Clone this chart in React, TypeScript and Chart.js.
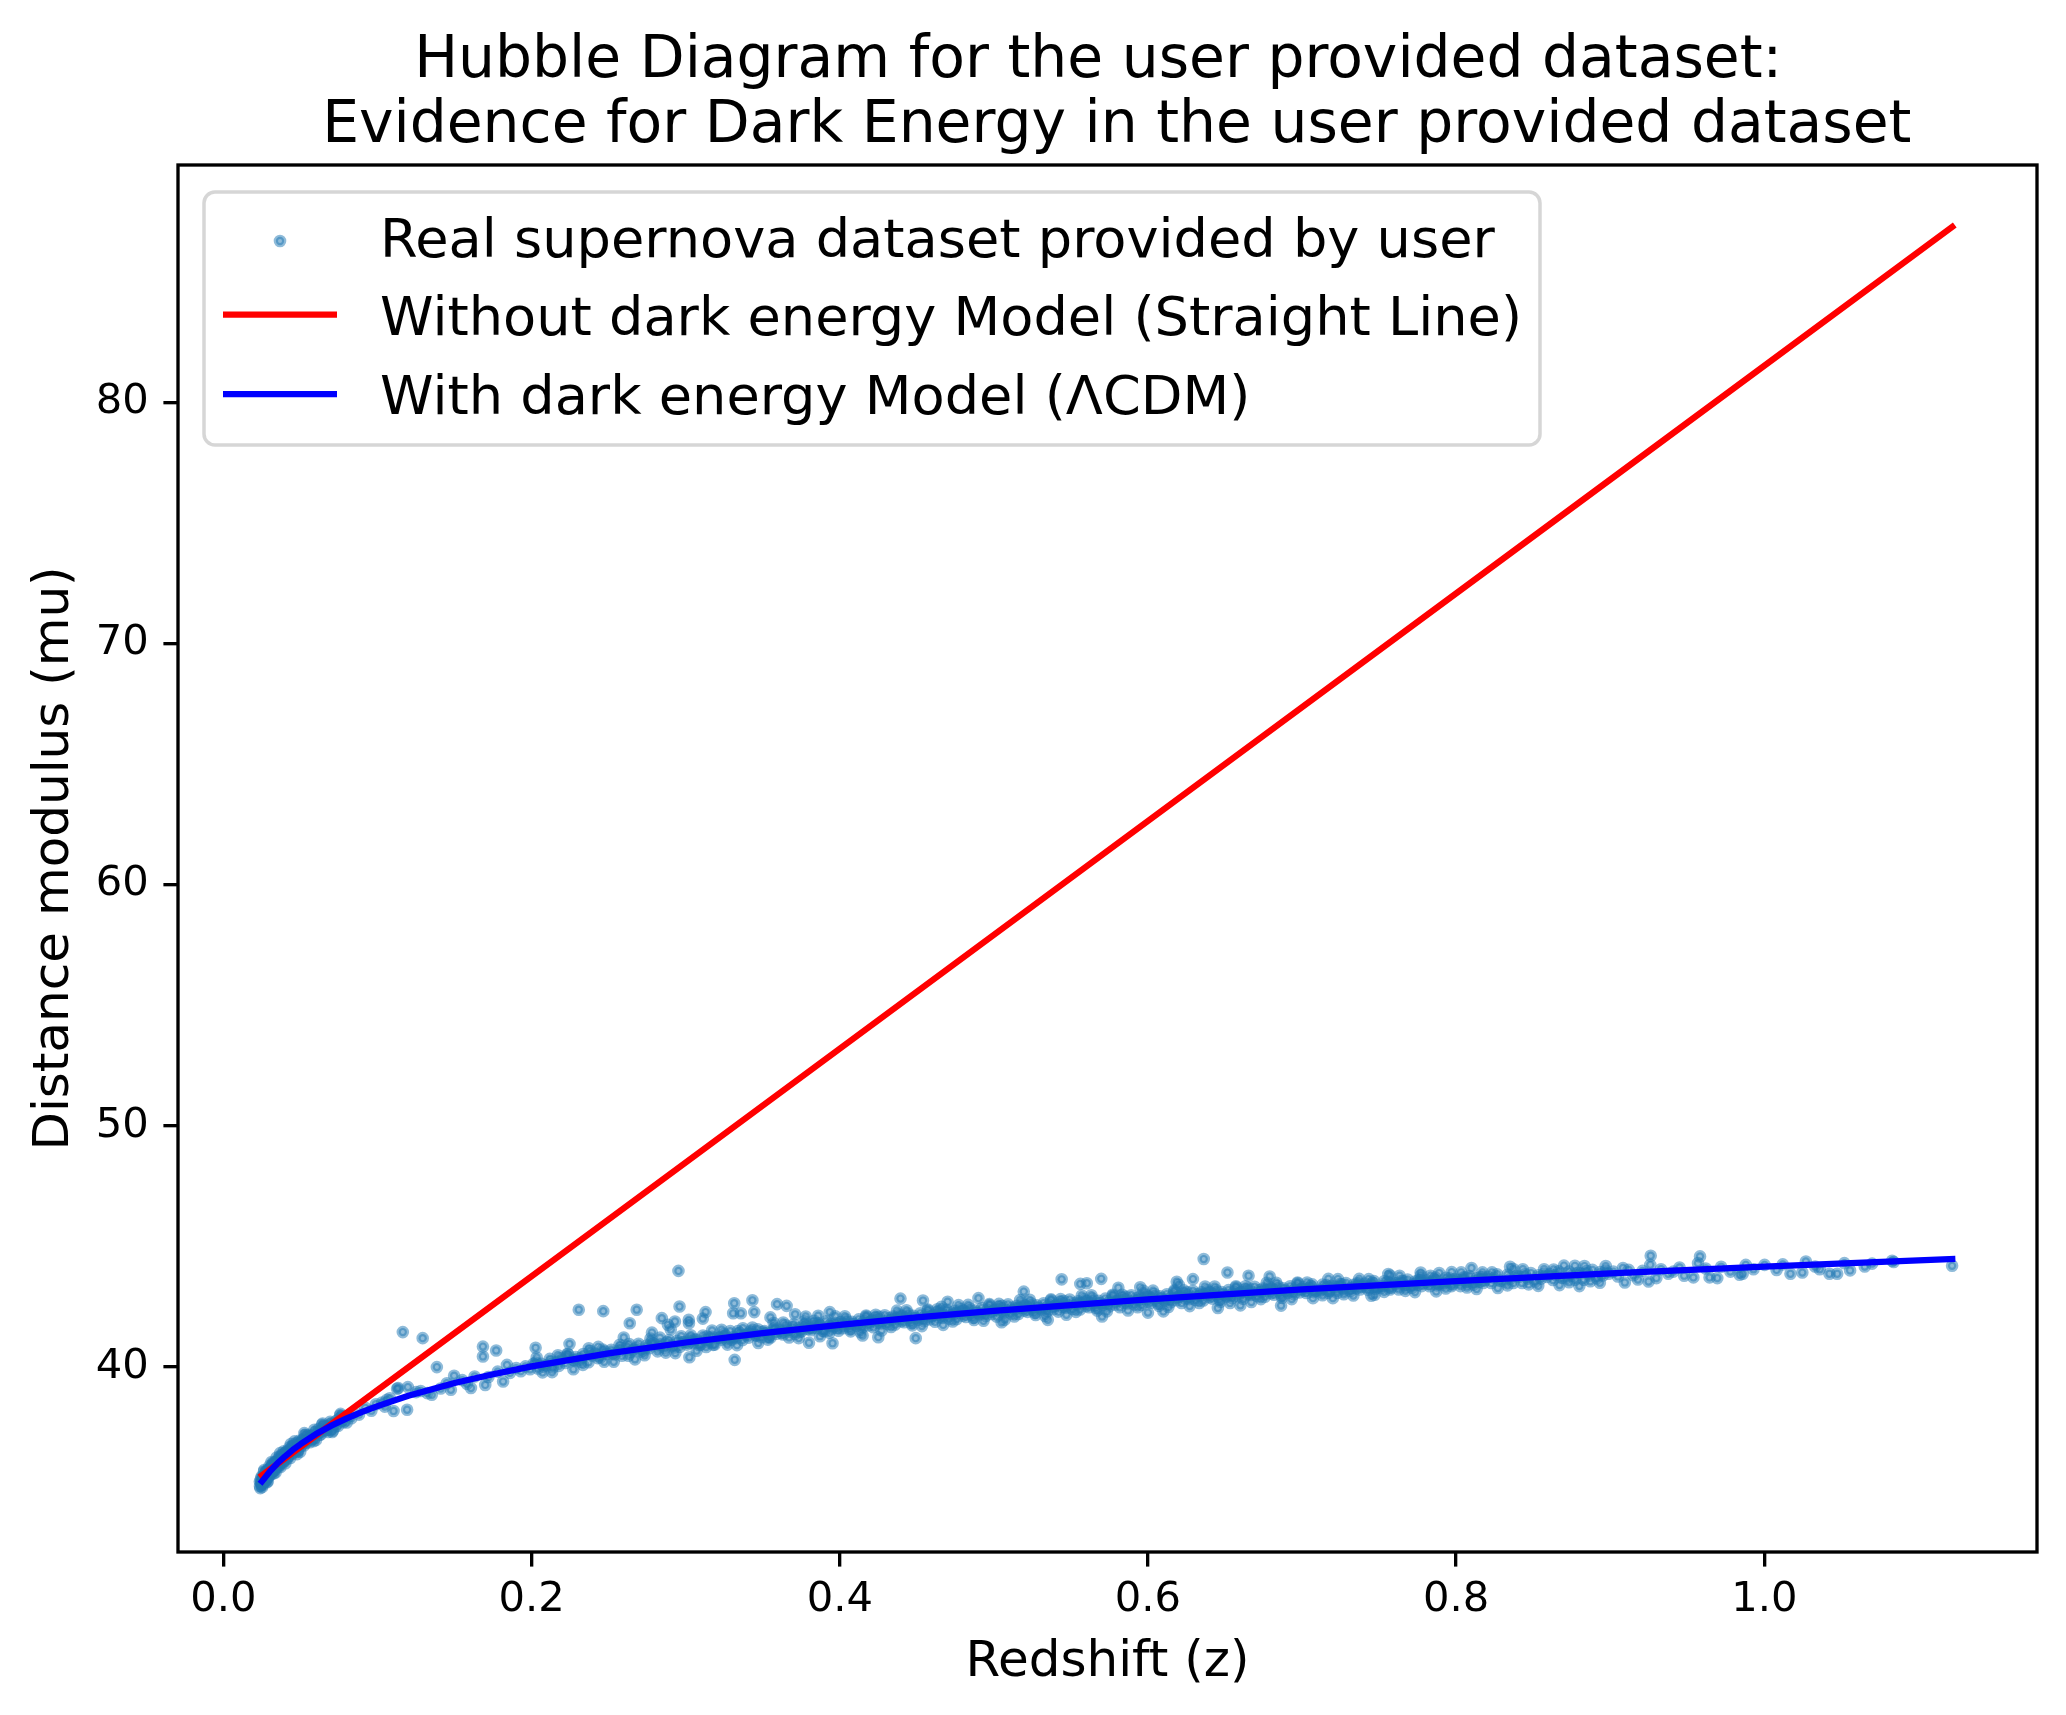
import React, { useEffect, useRef } from "react";
import { Chart, registerables } from "chart.js";

Chart.register(...registerables);

const WIDTH = 2066;
const HEIGHT = 1715;
const FONT = '"DejaVu Sans", "Liberation Sans", sans-serif';

// Text
const titleLines = [
  "Hubble Diagram for the user provided dataset: ",
  " Evidence for Dark Energy in the user provided dataset",
];
const xAxisLabel = "Redshift (z)";
const yAxisLabel = "Distance modulus (mu)";
const legendLabels = [
  "Real supernova dataset provided by user",
  "Without dark energy Model (Straight Line)",
  "With dark energy Model (\u039BCDM)",
];

// Axes
const xRange = [-0.0295, 1.177];
const yRange = [32.32, 89.85];
const xTickValues = [0.0, 0.2, 0.4, 0.6, 0.8, 1.0];
const yTickValues = [40, 50, 60, 70, 80];

// Model curves
const linearZ = [0.025, 0.3, 0.6, 0.9, 1.122];
const linearMu = [35.5, 48.48, 62.64, 76.8, 87.28];

const lcdmZ = [
  0.025, 0.03, 0.035, 0.04, 0.045, 0.05, 0.06, 0.07, 0.08, 0.09, 0.1, 0.12, 0.15, 0.175,
  0.2, 0.25, 0.3, 0.35, 0.4, 0.45, 0.5, 0.6, 0.7, 0.8, 0.9, 1.0, 1.1, 1.122,
];
const lcdmMu = [
  35.25, 35.65, 36.0, 36.29, 36.56, 36.79, 37.21, 37.56, 37.86, 38.13, 38.37, 38.8, 39.33, 39.69,
  40.02, 40.56, 41.01, 41.4, 41.74, 42.05, 42.32, 42.8, 43.21, 43.56, 43.88, 44.16, 44.42, 44.47,
];

// Supernovae [z, mu], grouped by redshift range
const snLowZ: [number, number][] = [
  [0.0236,35.24],[0.0239,34.97],[0.0242,35.23],[0.0245,35.13],[0.0248,35.45],[0.0251,35.01],[0.0254,35.28],[0.0257,35.46],[0.026,35.22],[0.0263,35.66],
  [0.0266,35.34],[0.027,35.5],[0.0274,35.25],[0.0278,35.66],[0.0282,35.21],[0.0286,35.56],[0.029,35.67],[0.0294,35.45],[0.0298,35.88],[0.0302,35.64],
  [0.0306,35.81],[0.031,35.54],[0.0314,35.8],[0.0318,35.69],[0.0322,36.02],[0.0326,35.58],[0.033,35.86],[0.0335,36.04],[0.034,35.81],[0.0345,36.24],
  [0.035,35.95],[0.0355,36.1],[0.036,35.86],[0.0365,36.27],[0.037,35.84],[0.0375,36.17],[0.038,36.28],[0.0386,36.06],[0.0392,36.5],[0.0398,36.26],
  [0.0404,36.44],[0.041,36.17],[0.0416,36.43],[0.0422,36.33],[0.0428,36.66],[0.0434,36.22],[0.044,36.51],[0.0447,36.69],[0.0454,36.46],[0.0461,36.91],
  [0.0468,36.6],[0.0475,36.76],[0.0482,36.51],[0.049,36.93],[0.0498,36.48],[0.0506,36.84],[0.0514,36.96],[0.0522,36.74],[0.053,37.18],[0.054,36.95],
  [0.055,37.13],[0.056,36.87],[0.057,37.14],[0.058,37.05],[0.059,37.39],[0.06,36.96],[0.061,37.25],[0.062,37.43],[0.0632,37.2],[0.0644,37.65],
  [0.0656,37.36],[0.0668,37.54],[0.068,37.3],[0.0693,37.72],[0.0706,37.3],[0.0719,37.64],[0.0732,37.76],[0.0745,37.55],[0.0758,37.99],[0.0771,37.76],
  [0.0785,37.94],[0.08,37.69],[0.0815,37.96],[0.083,37.87],
  [0.0237,35.05],[0.0243,35.36],[0.0249,35.18],[0.0256,35.12],[0.0262,35.43],[0.0268,35.28],[0.0276,35.6],[0.0284,35.38],[0.0292,35.74],[0.03,35.52],
  [0.0308,35.86],[0.0316,35.66],[0.0324,35.93],[0.0332,35.72],[0.0342,36.05],[0.0352,35.88],[0.0362,36.16],[0.0372,36.02],[0.0384,36.35],[0.0395,36.12],
  [0.0407,36.48],[0.0419,36.28],[0.0431,36.58],[0.0445,36.4],[0.0458,36.74],[0.0472,36.55],[0.0487,36.86],[0.0502,36.7],[0.0518,37.0],[0.0535,36.84],
  [0.0552,37.18],[0.0575,37.0],[0.0598,37.3],[0.0625,37.18],[0.065,37.52],[0.0675,37.38],[0.07,37.66],[0.0725,37.52],[0.075,37.84],[0.0778,37.7],
  [0.0265,35.72],[0.0288,35.25],[0.0312,36.05],[0.0338,35.62],[0.0368,36.42],[0.0402,36.0],[0.0438,36.8],[0.0478,36.38],[0.0525,37.25],[0.0585,36.92],
  [0.064,37.6],[0.071,37.35],[0.076,38.05],
];

const snNearbyZ: [number, number][] = [
  [0.088,38.02],[0.092,38.3],[0.096,38.18],[0.099,38.45],[0.103,38.52],[0.1047,38.35],[0.106,38.63],[0.108,38.7],[0.1104,38.17],[0.1127,39.09],
  [0.1134,39.12],[0.1164,41.44],[0.1192,38.22],[0.1197,39.16],[0.125,38.95],[0.128,39.0],[0.1293,41.19],[0.1323,38.91],[0.1352,38.84],[0.1385,39.99],
  [0.141,39.1],[0.145,39.32],[0.1476,39.05],[0.1497,39.63],[0.155,39.45],[0.158,39.3],[0.1606,39.12],[0.163,39.6],[0.1684,40.84],[0.1684,40.43],
  [0.1699,39.25],[0.172,39.58],[0.177,40.68],[0.178,39.8],[0.1815,39.39],[0.184,40.08],[0.186,39.75],[0.19,39.95],[0.193,39.82],[0.196,40.02],
  [0.199,39.9],[0.2026,40.79],
];

const snMidZ1: [number, number][] = [
  [0.2012,40.13],[0.2041,39.93],[0.2063,40.13],[0.2094,40.06],[0.2118,40.33],[0.2137,39.97],[0.2169,40.21],[0.2188,40.35],[0.2219,40.16],[0.2236,40.52],
  [0.2271,40.28],[0.2287,40.41],[0.2318,40.21],[0.2335,40.53],[0.2369,40.19],[0.2392,40.47],[0.2413,40.55],[0.2446,40.39],[0.2461,40.72],[0.2493,40.53],
  [0.2517,40.71],[0.2538,40.51],[0.2569,40.67],[0.2586,40.46],[0.2619,40.83],[0.2642,40.62],[0.2661,40.72],[0.2694,40.96],[0.2712,40.63],[0.2745,40.88],
  [0.2763,40.77],[0.2789,40.98],[0.2818,40.64],[0.2837,40.93],[0.2866,40.79],[0.2891,41.11],[0.2913,40.89],[0.2944,41.08],[0.2962,40.83],[0.2991,41.03],
  [0.2027,40.18],[0.2078,40.01],[0.2126,40.21],[0.2177,40.04],[0.2229,40.43],[0.2278,40.26],[0.2326,40.39],[0.2379,40.66],[0.2428,40.36],[0.2477,40.63],
  [0.2528,40.56],[0.2577,40.79],[0.2628,40.46],[0.2679,40.79],[0.2727,40.67],[0.2778,41.01],[0.2826,40.81],[0.2878,41.02],[0.2927,40.8],[0.2978,41.02],
  [0.2246,40.95],[0.2306,42.37],[0.2465,42.31],[0.2598,41.22],[0.2637,41.81],[0.2682,42.37],[0.2781,41.42],[0.2845,42.02],[0.2885,41.74],[0.2903,41.55],
  [0.293,41.88],[0.2953,43.98],[0.296,42.5],
];

const snMidZ2: [number, number][] = [
  [0.3008,40.92],[0.3031,41.17],[0.3047,41.01],[0.3069,41.13],[0.3088,40.9],[0.3112,41.3],[0.3127,41.11],[0.3149,41.01],[0.3171,41.25],[0.3188,40.92],
  [0.3209,41.22],[0.3232,41.13],[0.3248,41.37],[0.3271,41.09],[0.3289,41.48],[0.3311,41.24],[0.3328,41.19],[0.3352,41.41],[0.3369,41.11],[0.3391,41.34],
  [0.3409,41.21],[0.3431,41.44],[0.3452,41.32],[0.3468,41.56],[0.3491,41.23],[0.3512,41.48],[0.3529,41.41],[0.3551,41.22],[0.3572,41.58],[0.3589,41.37],
  [0.3611,41.51],[0.3632,41.34],[0.3649,41.72],[0.3671,41.46],[0.3692,41.64],[0.3709,41.36],[0.3731,41.61],[0.3752,41.47],[0.3769,41.74],[0.3791,41.57],
  [0.3812,41.52],[0.3829,41.77],[0.3851,41.61],[0.3872,41.72],[0.3889,41.49],[0.3911,41.89],[0.3932,41.7],[0.3949,41.59],[0.3971,41.82],[0.3992,41.5],
  [0.3019,40.99],[0.3058,41.13],[0.3098,40.93],[0.3139,41.26],[0.3178,40.91],[0.3221,41.21],[0.3259,41.3],[0.3299,41.13],[0.3338,41.48],[0.3381,41.3],
  [0.3419,41.47],[0.3461,41.29],[0.3499,41.45],[0.3541,41.25],[0.3579,41.62],[0.3621,41.41],[0.3659,41.52],[0.3701,41.76],[0.3739,41.44],[0.3781,41.69],
  [0.3819,41.6],[0.3861,41.81],[0.3899,41.47],[0.3941,41.77],[0.3981,41.62],
  [0.302,41.95],[0.3021,41.81],[0.3024,40.4],[0.3111,42.0],[0.3129,42.27],[0.3308,42.22],[0.3315,42.64],[0.3318,40.29],[0.3358,42.22],[0.3433,42.76],
  [0.3445,42.27],[0.355,42.05],[0.3593,42.6],[0.3655,42.53],[0.371,42.18],[0.3779,42.09],[0.38,41.0],[0.386,42.12],[0.3935,42.27],[0.3953,40.98],
];

const snDenseZ: [number, number][] = [
  [0.4006,41.86],[0.4018,41.6],[0.4029,41.79],[0.4042,41.96],[0.4055,41.69],[0.4067,41.56],[0.4079,41.87],[0.4092,41.77],
  [0.4111,41.71],[0.4123,41.97],[0.4136,41.78],[0.4147,41.64],[0.4159,41.9],[0.4172,42.09],[0.4185,41.72],[0.4197,41.86],
  [0.4206,41.92],[0.4218,41.64],[0.4229,42.03],[0.4242,41.83],[0.4255,42.08],[0.4267,41.8],[0.4279,41.91],[0.4292,42.14],
  [0.4311,41.77],[0.4323,42.02],[0.4336,41.94],[0.4347,42.09],[0.4359,41.75],[0.4372,42.01],[0.4385,42.17],[0.4397,41.89],
  [0.4406,42.11],[0.4418,41.85],[0.4429,42.04],[0.4442,42.21],[0.4455,41.94],[0.4467,41.81],[0.4479,42.12],[0.4492,42.02],
  [0.4511,41.96],[0.4523,42.22],[0.4536,42.03],[0.4547,41.89],[0.4559,42.15],[0.4572,42.34],[0.4585,41.97],[0.4597,42.11],
  [0.4606,42.15],[0.4618,41.87],[0.4629,42.26],[0.4642,42.06],[0.4655,42.31],[0.4667,42.03],[0.4679,42.14],[0.4692,42.37],
  [0.4711,42.0],[0.4723,42.25],[0.4736,42.17],[0.4747,42.32],[0.4759,41.98],[0.4772,42.24],[0.4785,42.4],[0.4797,42.12],
  [0.4806,42.33],[0.4818,42.07],[0.4829,42.26],[0.4842,42.43],[0.4855,42.16],[0.4867,42.03],[0.4879,42.34],[0.4892,42.24],
  [0.4911,42.18],[0.4923,42.44],[0.4936,42.25],[0.4947,42.11],[0.4959,42.37],[0.4972,42.56],[0.4985,42.19],[0.4997,42.33],
  [0.5006,42.37],[0.5018,42.09],[0.5029,42.48],[0.5042,42.28],[0.5055,42.53],[0.5067,42.25],[0.5079,42.36],[0.5092,42.59],
  [0.5111,42.21],[0.5123,42.46],[0.5136,42.38],[0.5147,42.53],[0.5159,42.19],[0.5172,42.45],[0.5185,42.61],[0.5197,42.33],
  [0.5206,42.54],[0.5218,42.28],[0.5229,42.47],[0.5242,42.64],[0.5255,42.37],[0.5267,42.24],[0.5279,42.55],[0.5292,42.45],
  [0.5311,42.38],[0.5323,42.64],[0.5336,42.45],[0.5347,42.31],[0.5359,42.57],[0.5372,42.76],[0.5385,42.39],[0.5397,42.53],
  [0.5406,42.57],[0.5418,42.29],[0.5429,42.68],[0.5442,42.48],[0.5455,42.73],[0.5467,42.45],[0.5479,42.56],[0.5492,42.79],
  [0.5511,42.4],[0.5523,42.65],[0.5536,42.57],[0.5547,42.72],[0.5559,42.38],[0.5572,42.64],[0.5585,42.8],[0.5597,42.52],
  [0.5606,42.73],[0.5618,42.47],[0.5629,42.66],[0.5642,42.83],[0.5655,42.56],[0.5667,42.43],[0.5679,42.74],[0.5692,42.64],
  [0.5711,42.57],[0.5723,42.83],[0.5736,42.64],[0.5747,42.5],[0.5759,42.76],[0.5772,42.95],[0.5785,42.58],[0.5797,42.72],
  [0.5806,42.75],[0.5818,42.47],[0.5829,42.86],[0.5842,42.66],[0.5855,42.91],[0.5867,42.63],[0.5879,42.74],[0.5892,42.97],
  [0.5911,42.59],[0.5923,42.84],[0.5936,42.76],[0.5947,42.91],[0.5959,42.57],[0.5972,42.83],[0.5985,42.99],[0.5997,42.71],
  [0.6006,42.92],[0.6018,42.66],[0.6029,42.85],[0.6042,43.02],[0.6055,42.75],[0.6067,42.62],[0.6079,42.93],[0.6092,42.83],
  [0.6111,42.75],[0.6123,43.01],[0.6136,42.82],[0.6147,42.68],[0.6159,42.94],[0.6172,43.13],[0.6185,42.76],[0.6197,42.9],
  [0.6206,42.93],[0.6218,42.65],[0.6229,43.04],[0.6242,42.84],[0.6255,43.09],[0.6267,42.81],[0.6279,42.92],[0.6292,43.15],
  [0.6311,42.77],[0.6323,43.02],[0.6336,42.94],[0.6347,43.09],[0.6359,42.75],[0.6372,43.01],[0.6385,43.17],[0.6397,42.89],
  [0.6406,43.09],[0.6418,42.83],[0.6429,43.02],[0.6442,43.19],[0.6455,42.92],[0.6467,42.79],[0.6479,43.1],[0.6492,43.0],
  [0.6511,42.92],[0.6523,43.18],[0.6536,42.99],[0.6547,42.85],[0.6559,43.11],[0.6572,43.3],[0.6585,42.93],[0.6597,43.07],
  [0.6606,43.1],[0.6618,42.82],[0.6629,43.21],[0.6642,43.01],[0.6655,43.26],[0.6667,42.98],[0.6679,43.09],[0.6692,43.32],
  [0.6711,42.93],[0.6723,43.18],[0.6736,43.1],[0.6747,43.25],[0.6759,42.91],[0.6772,43.17],[0.6785,43.33],[0.6797,43.05],
  [0.6806,43.25],[0.6818,42.99],[0.6829,43.18],[0.6842,43.35],[0.6855,43.08],[0.6867,42.95],[0.6879,43.26],[0.6892,43.16],
  [0.6911,43.08],[0.6923,43.34],[0.6936,43.15],[0.6947,43.01],[0.6959,43.27],[0.6972,43.46],[0.6985,43.09],[0.6997,43.23],
  [0.4148,41.3],[0.425,41.23],[0.4394,42.83],[0.4493,41.19],[0.454,42.75],[0.466,42.49],[0.47,42.7],[0.49,42.85],[0.505,41.85],[0.5194,43.12],
  [0.535,41.95],[0.544,43.63],[0.5561,43.44],[0.5603,43.47],[0.5697,43.65],[0.5702,42.09],[0.5808,43.28],[0.595,43.3],[0.6,42.25],[0.61,42.3],
  [0.6187,43.53],[0.62,43.4],[0.6292,43.64],[0.6362,44.47],[0.6454,42.44],[0.6516,43.91],[0.66,42.55],[0.6653,43.78],[0.679,43.75],[0.6864,42.54],
];

const snHighZ: [number, number][] = [
  [0.7009,43.31],[0.7028,43.06],[0.7047,43.27],[0.7066,43.42],[0.7085,43.15],
  [0.7114,43.13],[0.7133,43.41],[0.7152,43.24],[0.7171,43.07],[0.719,43.36],
  [0.7209,43.33],[0.7228,43.07],[0.7247,43.43],[0.7266,43.25],[0.7285,43.48],
  [0.7314,43.14],[0.7333,43.4],[0.7352,43.26],[0.7371,43.46],[0.739,43.33],
  [0.7409,43.45],[0.7428,43.2],[0.7447,43.41],[0.7466,43.56],[0.7485,43.29],
  [0.7514,43.27],[0.7533,43.55],[0.7552,43.38],[0.7571,43.21],[0.759,43.5],
  [0.7609,43.47],[0.7628,43.21],[0.7647,43.57],[0.7666,43.39],[0.7685,43.62],
  [0.7714,43.28],[0.7733,43.54],[0.7752,43.4],[0.7771,43.6],[0.779,43.47],
  [0.7809,43.59],[0.7828,43.34],[0.7847,43.55],[0.7866,43.7],[0.7885,43.43],
  [0.7914,43.41],[0.7933,43.69],[0.7952,43.52],[0.7971,43.35],[0.799,43.64],
  [0.8009,43.61],[0.8028,43.35],[0.8047,43.71],[0.8066,43.53],[0.8085,43.76],
  [0.8114,43.41],[0.8133,43.67],[0.8152,43.53],[0.8171,43.73],[0.819,43.6],
  [0.8209,43.73],[0.8228,43.48],[0.8247,43.69],[0.8266,43.84],[0.8285,43.57],
  [0.8314,43.54],[0.8333,43.82],[0.8352,43.65],[0.8371,43.48],[0.839,43.77],
  [0.8409,43.74],[0.8428,43.48],[0.8447,43.84],[0.8466,43.66],[0.8485,43.89],
  [0.8514,43.54],[0.8533,43.8],[0.8552,43.66],[0.8571,43.86],[0.859,43.73],
  [0.8609,43.85],[0.8628,43.6],[0.8647,43.81],[0.8666,43.96],[0.8685,43.69],
  [0.8714,43.67],[0.8733,43.95],[0.8752,43.78],[0.8771,43.61],[0.879,43.9],
  [0.8809,43.87],[0.8828,43.61],[0.8847,43.97],[0.8866,43.79],[0.8885,44.02],
  [0.8914,43.67],[0.8933,43.93],[0.8952,43.79],[0.8971,43.99],[0.899,43.86],
  [0.7019,43.16],[0.7057,43.35],[0.7076,43.1],[0.7119,43.2],[0.7157,43.39],[0.7176,43.14],
  [0.7219,43.23],[0.7257,43.42],[0.7276,43.17],[0.7319,43.27],[0.7357,43.46],[0.7376,43.21],
  [0.7419,43.3],[0.7457,43.49],[0.7476,43.24],[0.7519,43.34],[0.7557,43.53],[0.7576,43.28],
  [0.7619,43.37],[0.7657,43.56],[0.7676,43.31],[0.7719,43.41],[0.7757,43.6],[0.7776,43.35],
  [0.7819,43.44],[0.7857,43.63],[0.7876,43.38],[0.7919,43.48],[0.7957,43.67],[0.7976,43.42],
  [0.8019,43.51],[0.8057,43.7],[0.8076,43.45],[0.8119,43.54],[0.8157,43.73],[0.8176,43.48],
  [0.72,42.85],[0.745,42.95],[0.756,43.85],[0.777,43.91],[0.789,43.89],[0.81,44.1],[0.835,44.15],[0.87,44.2],[0.88,43.35],
];

// Wider-scatter members of the main band (0.2 < z < 0.9)
const snBandEdges: [number, number][] = [
  [0.2033,40.39],[0.2071,39.77],[0.2133,39.78],[0.2171,40.48],[0.2233,40.54],[0.2271,39.9],[0.2333,40.08],[0.2371,40.77],
  [0.2433,40.83],[0.2471,40.21],[0.2533,40.21],[0.2571,40.91],[0.2633,40.95],[0.2671,40.31],[0.2733,40.48],[0.2771,41.17],
  [0.2833,41.21],[0.2871,40.59],[0.2933,40.57],[0.2971,41.27],[0.3033,41.31],[0.3071,40.67],[0.3133,40.82],[0.3171,41.51],
  [0.3233,41.54],[0.3271,40.92],[0.3333,40.9],[0.3371,41.6],[0.3433,41.63],[0.3471,40.99],[0.3533,41.13],[0.3571,41.82],
  [0.3633,41.84],[0.3671,41.22],[0.3733,41.19],[0.3771,41.89],[0.3833,41.91],[0.3871,41.27],[0.3933,41.41],[0.3971,42.1],
  [0.4033,42.1],[0.4071,41.47],[0.4133,41.44],[0.4171,42.13],[0.4233,42.16],[0.4271,41.51],[0.4333,41.65],[0.4371,42.33],
  [0.4433,42.35],[0.4471,41.72],[0.4533,41.69],[0.4571,42.38],[0.4633,42.39],[0.4671,41.74],[0.4733,41.88],[0.4771,42.56],
  [0.4833,42.57],[0.4871,41.94],[0.4933,41.91],[0.4971,42.6],[0.5033,42.61],[0.5071,41.96],[0.5133,42.09],[0.5171,42.77],
  [0.5233,42.78],[0.5271,42.15],[0.5333,42.11],[0.5371,42.8],[0.5433,42.81],[0.5471,42.16],[0.5533,42.28],[0.5571,42.96],
  [0.5633,42.97],[0.5671,42.34],[0.5733,42.3],[0.5771,42.99],[0.5833,42.99],[0.5871,42.34],[0.5933,42.47],[0.5971,43.15],
  [0.6033,43.16],[0.6071,42.53],[0.6133,42.48],[0.6171,43.17],[0.6233,43.17],[0.6271,42.52],[0.6333,42.65],[0.6371,43.33],
  [0.6433,43.33],[0.6471,42.7],[0.6533,42.65],[0.6571,43.34],[0.6633,43.34],[0.6671,42.69],[0.6733,42.81],[0.6771,43.49],
  [0.6833,43.49],[0.6871,42.86],[0.6933,42.81],[0.6971,43.5],[0.7033,43.5],[0.7071,42.85],[0.7133,42.97],[0.7171,43.65],
  [0.7233,43.64],[0.7271,43.01],[0.7333,42.96],[0.7371,43.65],[0.7433,43.64],[0.7471,42.99],[0.7533,43.11],[0.7571,43.79],
  [0.7633,43.78],[0.7671,43.15],[0.7733,43.1],[0.7771,43.79],[0.7833,43.78],[0.7871,43.13],[0.7933,43.25],[0.7971,43.93],
  [0.8033,43.92],[0.8071,43.29],[0.8133,43.23],[0.8171,43.92],[0.8233,43.92],[0.8271,43.27],[0.8333,43.38],[0.8371,44.06],
  [0.8433,44.05],[0.8471,43.42],[0.8533,43.36],[0.8571,44.05],[0.8633,44.04],[0.8671,43.39],[0.8733,43.51],[0.8771,44.19],
  [0.8833,44.18],[0.8871,43.55],[0.8933,43.49],[0.8971,44.18],
];

const snFarZ: [number, number][] = [
  [0.902,43.95],[0.905,43.75],[0.9083,44.1],[0.9095,43.5],[0.912,44.02],[0.915,43.8],[0.918,43.62],[0.921,43.98],[0.9249,43.54],[0.926,44.23],
  [0.9263,44.61],[0.93,43.68],[0.933,44.05],[0.9377,43.86],[0.941,43.95],[0.945,44.12],[0.948,43.78],[0.954,43.71],[0.957,44.3],[0.9583,44.58],
  [0.962,44.08],[0.9645,43.71],[0.9695,43.68],[0.972,44.15],[0.978,43.95],[0.984,43.82],[0.986,43.86],[0.988,44.23],[0.993,44.05],[1.0002,44.23],
  [1.008,44.02],[1.012,44.25],[1.017,43.86],[1.0247,43.91],[1.027,44.37],[1.033,44.16],[1.036,44.05],[1.0423,43.86],[1.0473,43.86],[1.052,44.3],
  [1.0557,44.0],[1.0652,44.16],[1.07,44.28],[1.083,44.4],[1.084,44.35],[1.1219,44.19],
];

const supernovae = [
  ...snLowZ, ...snNearbyZ, ...snMidZ1, ...snMidZ2, ...snDenseZ, ...snHighZ, ...snBandEdges, ...snFarZ,
];

// Styles
const SN_COLOR = "rgba(31,119,180,0.5)";
const SN_RADIUS = 4.15;
const SN_BORDER = 4.3;
const LINE_WIDTH = 6.25;
const SPINE_WIDTH = 3.33;
const TICK_LEN = 14.6;
const TICK_FONT = 41.67;
const LABEL_FONT = 50;
const TITLE_FONT = 58.33;
const LEGEND_FONT = 54.2;

function drawMarker(ctx: CanvasRenderingContext2D, x: number, y: number) {
  ctx.beginPath();
  ctx.arc(x, y, SN_RADIUS, 0, Math.PI * 2);
  ctx.closePath();
  ctx.fillStyle = SN_COLOR;
  ctx.fill();
  ctx.lineWidth = SN_BORDER;
  ctx.strokeStyle = SN_COLOR;
  ctx.stroke();
}

function roundedRect(ctx: CanvasRenderingContext2D, x: number, y: number, w: number, h: number, r: number) {
  ctx.beginPath();
  ctx.moveTo(x + r, y);
  ctx.lineTo(x + w - r, y);
  ctx.arc(x + w - r, y + r, r, -Math.PI / 2, 0);
  ctx.lineTo(x + w, y + h - r);
  ctx.arc(x + w - r, y + h - r, r, 0, Math.PI / 2);
  ctx.lineTo(x + r, y + h);
  ctx.arc(x + r, y + h - r, r, Math.PI / 2, Math.PI);
  ctx.lineTo(x, y + r);
  ctx.arc(x + r, y + r, r, Math.PI, Math.PI * 1.5);
  ctx.closePath();
}

const decorations = {
  id: "decorations",
  afterDraw(chart: any) {
    const ctx: CanvasRenderingContext2D = chart.ctx;
    const a = chart.chartArea;
    ctx.save();

    // axes frame
    ctx.strokeStyle = "#000";
    ctx.lineWidth = SPINE_WIDTH;
    ctx.strokeRect(a.left, a.top, a.right - a.left, a.bottom - a.top);

    const cx = (a.left + a.right) / 2;
    ctx.fillStyle = "#000";
    ctx.textBaseline = "alphabetic";
    ctx.textAlign = "center";

    // title
    ctx.font = `${TITLE_FONT}px ${FONT}`;
    ctx.fillText(titleLines[0], cx, 77);
    ctx.fillText(titleLines[1], cx, 141.5);

    // axis labels
    ctx.font = `${LABEL_FONT}px ${FONT}`;
    ctx.fillText(xAxisLabel, cx, 1676);
    ctx.save();
    ctx.translate(68, (a.top + a.bottom) / 2);
    ctx.rotate(-Math.PI / 2);
    ctx.fillText(yAxisLabel, 0, 0);
    ctx.restore();

    // legend
    const lx = 204, ly = 192, lw = 1336, lh = 253;
    roundedRect(ctx, lx, ly, lw, lh, 11);
    ctx.fillStyle = "rgba(255,255,255,0.8)";
    ctx.fill();
    ctx.strokeStyle = "rgba(204,204,204,0.8)";
    ctx.lineWidth = 3.5;
    ctx.stroke();

    const hx0 = 223, hx1 = 337, textX = 380;
    drawMarker(ctx, (hx0 + hx1) / 2, 241);
    ctx.lineCap = "butt";
    ctx.lineWidth = LINE_WIDTH;
    ctx.strokeStyle = "#ff0000";
    ctx.beginPath(); ctx.moveTo(hx0, 314.5); ctx.lineTo(hx1, 314.5); ctx.stroke();
    ctx.strokeStyle = "#0000ff";
    ctx.beginPath(); ctx.moveTo(hx0, 394); ctx.lineTo(hx1, 394); ctx.stroke();

    ctx.fillStyle = "#000";
    ctx.textAlign = "left";
    ctx.font = `${LEGEND_FONT}px ${FONT}`;
    ctx.fillText(legendLabels[0], textX, 256.7);
    ctx.fillText(legendLabels[1], textX, 335.3);
    ctx.fillText(legendLabels[2], textX, 414);

    ctx.restore();
  },
};

export default function App() {
  const canvasRef = useRef<HTMLCanvasElement | null>(null);

  useEffect(() => {
    const canvas = canvasRef.current;
    if (!canvas) return;

    const chart = new Chart(canvas, {
      type: "scatter",
      data: {
        datasets: [
          {
            label: legendLabels[0],
            data: supernovae.map(([x, y]) => ({ x, y })),
            pointRadius: SN_RADIUS,
            pointHoverRadius: SN_RADIUS,
            pointBorderWidth: SN_BORDER,
            pointBackgroundColor: SN_COLOR,
            pointBorderColor: SN_COLOR,
            backgroundColor: SN_COLOR,
            borderColor: SN_COLOR,
            order: 3,
          },
          {
            label: legendLabels[1],
            data: linearZ.map((x, i) => ({ x, y: linearMu[i] })),
            showLine: true,
            pointRadius: 0,
            borderColor: "#ff0000",
            backgroundColor: "#ff0000",
            borderWidth: LINE_WIDTH,
            borderCapStyle: "square",
            borderJoinStyle: "round",
            fill: false,
            order: 2,
          },
          {
            label: legendLabels[2],
            data: lcdmZ.map((x, i) => ({ x, y: lcdmMu[i] })),
            showLine: true,
            pointRadius: 0,
            borderColor: "#0000ff",
            backgroundColor: "#0000ff",
            borderWidth: LINE_WIDTH,
            borderCapStyle: "square",
            borderJoinStyle: "round",
            fill: false,
            order: 1,
          },
        ],
      } as any,
      options: {
        animation: false,
        responsive: false,
        devicePixelRatio: 1,
        events: [],
        layout: { padding: { left: 0, top: 165, right: WIDTH - 2037, bottom: 0 } },
        plugins: {
          legend: { display: false },
          title: { display: false },
          tooltip: { enabled: false },
        },
        scales: {
          x: {
            type: "linear",
            min: xRange[0],
            max: xRange[1],
            afterFit: (s: any) => { s.height = HEIGHT - 1552; },
            afterBuildTicks: (s: any) => { s.ticks = xTickValues.map((v) => ({ value: v })); },
            ticks: {
              callback: (v: any) => Number(v).toFixed(1),
              font: { family: FONT, size: TICK_FONT },
              color: "#000",
              padding: 8.7,
              maxRotation: 0,
              autoSkip: false,
            },
            grid: {
              drawOnChartArea: false,
              drawTicks: true,
              tickLength: TICK_LEN,
              lineWidth: SPINE_WIDTH,
              color: "#000",
            },
            border: { display: false },
            title: { display: false },
          },
          y: {
            type: "linear",
            min: yRange[0],
            max: yRange[1],
            afterFit: (s: any) => { s.width = 178; },
            afterBuildTicks: (s: any) => { s.ticks = yTickValues.map((v) => ({ value: v })); },
            ticks: {
              callback: (v: any) => String(Math.round(Number(v))),
              font: { family: FONT, size: TICK_FONT },
              color: "#000",
              padding: 14.6,
              autoSkip: false,
            },
            grid: {
              drawOnChartArea: false,
              drawTicks: true,
              tickLength: TICK_LEN,
              lineWidth: SPINE_WIDTH,
              color: "#000",
            },
            border: { display: false },
            title: { display: false },
          },
        },
      } as any,
      plugins: [decorations as any],
    });

    return () => chart.destroy();
  }, []);

  return (
    <div style={{ position: "absolute", left: 0, top: 0, width: WIDTH, height: HEIGHT, background: "#fff" }}>
      <canvas ref={canvasRef} width={WIDTH} height={HEIGHT} style={{ display: "block", width: WIDTH, height: HEIGHT }} />
    </div>
  );
}
